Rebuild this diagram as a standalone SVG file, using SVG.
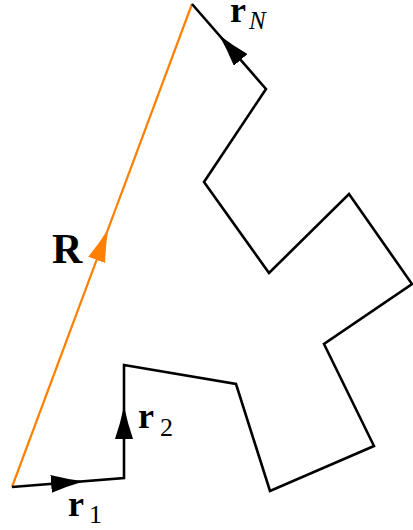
<svg xmlns="http://www.w3.org/2000/svg" width="413" height="530" viewBox="0 0 413 530">
<defs>
<style>
.chain{fill:none;stroke:#000;stroke-width:2.6;stroke-linejoin:miter;stroke-linecap:butt}
.rvec{fill:none;stroke:#ff8000;stroke-width:2.2}
.carrier{fill:none;stroke:none}
.lbl{font-family:"Liberation Serif","DejaVu Serif",serif;fill:#000}
.b{font-weight:bold}
.it{font-style:italic}
</style>
<marker id="ahB" markerUnits="userSpaceOnUse" viewBox="0 0 33 18" refX="33" refY="9" markerWidth="33" markerHeight="18" orient="auto">
<path d="M33,9 Q16,5.5 0,0 L0,18 Q16,12.5 33,9 Z" fill="#000"/>
</marker>
<marker id="ahO" markerUnits="userSpaceOnUse" viewBox="0 0 33 18" refX="33" refY="9" markerWidth="33" markerHeight="18" orient="auto">
<path d="M33,9 Q16,5.5 0,0 L0,18 Q16,12.5 33,9 Z" fill="#ff8000"/>
</marker>
</defs>
<rect width="413" height="530" fill="#fff"/>
<g id="connectors">
<line id="R" class="rvec" x1="12" y1="487" x2="192" y2="4"/>
<polyline id="chain" class="chain" points="12,487 124,478 124,365 236,384 270,491 374,446 324,344 412,284 349,194 269,273 204,182 266,89 192,4"/>
<line class="carrier" x1="12" y1="487" x2="84" y2="481.2" marker-end="url(#ahB)"/>
<line class="carrier" x1="124" y1="478" x2="124" y2="406" marker-end="url(#ahB)"/>
<line class="carrier" x1="266" y1="89" x2="219" y2="35" marker-end="url(#ahB)"/>
<line class="carrier" x1="12" y1="487" x2="108.2" y2="229" marker-end="url(#ahO)"/>
</g>
<g id="label-R"><text class="lbl b" x="52" y="263" font-size="42">R</text></g>
<g id="label-r1"><text class="lbl" y="516"><tspan class="b" x="68" font-size="36">r</tspan><tspan x="89" y="523" font-size="26">1</tspan></text></g>
<g id="label-r2"><text class="lbl" y="428"><tspan class="b" x="138" font-size="36">r</tspan><tspan x="160" y="436" font-size="26">2</tspan></text></g>
<g id="label-rN"><text class="lbl" y="22"><tspan class="b" x="230" font-size="36">r</tspan><tspan class="it" x="249" y="29" font-size="25">N</tspan></text></g>
</svg>
